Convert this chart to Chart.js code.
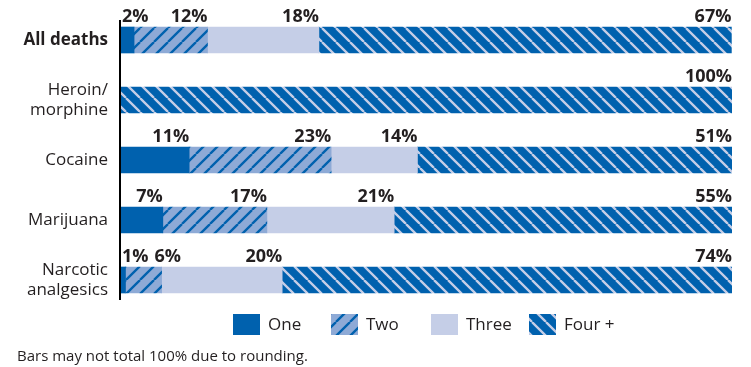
<!DOCTYPE html>
<html>
<head>
<meta charset="utf-8">
<script src="https://cdn.jsdelivr.net/npm/chart.js@4"></script>
<style>
  html, body { margin: 0; padding: 0; background: #fff; }
  #wrap { width: 751px; height: 367px; }
</style>
</head>
<body>
<div id="wrap"><canvas id="chart" width="751" height="367"></canvas></div>
<script>
const categories = ['All deaths', ['Heroin/', 'morphine'], 'Cocaine', 'Marijuana', ['Narcotic', 'analgesics']];
const seriesNames = ['One', 'Two', 'Three', 'Four +'];
// share of deaths by number of drugs involved (%)
const one   = [2.3, 0, 11.3, 7.0, 0.9];
const two   = [12.0, 0, 23.2, 17.0, 5.9];
const three = [18.2, 0, 14.1, 20.8, 19.7];
const four  = [67.4, 100, 51.4, 55.2, 73.5];
const footnote = 'Bars may not total 100% due to rounding.';

const FONT = "'Open Sans', 'Noto Sans', sans-serif";
const DARK = '#0061ae';
const MID = '#8eaad6';
const LIGHT = '#c5cee7';
const TEXT = '#231f20';

const canvas = document.getElementById('chart');
const ctx = canvas.getContext('2d');

function stripes(bg, fg, dir) {
    const s = 14;
    const c = document.createElement('canvas');
    c.width = s;
    c.height = s;
    const x = c.getContext('2d');
    x.fillStyle = bg;
    x.fillRect(0, 0, s, s);
    x.strokeStyle = fg;
    x.lineWidth = 2.3;
    x.beginPath();
    for (const k of [-s, 0, s]) {
        if (dir === '/') {
            x.moveTo(k, s);
            x.lineTo(k + s, 0);
        } else {
            x.moveTo(k, 0);
            x.lineTo(k + s, s);
        }
    }
    x.stroke();
    return ctx.createPattern(c, 'repeat');
}

const fills = [DARK, stripes(MID, DARK, '/'), LIGHT, stripes(DARK, LIGHT, '\\')];

const extras = {
    id: 'extras',
    afterDatasetsDraw(chart) {
        const c = chart.ctx;
        const area = chart.chartArea;
        const axisX = chart.scales.x.getPixelForValue(0);

        // axis line
        c.save();
        c.strokeStyle = '#000';
        c.lineWidth = 2;
        c.beginPath();
        c.moveTo(axisX, area.top + 10);
        c.lineTo(axisX, area.bottom - 10);
        c.stroke();

        // value labels above the bars
        c.font = 'bold 18px ' + FONT;
        c.fillStyle = TEXT;
        c.textAlign = 'right';
        c.textBaseline = 'alphabetic';
        categories.forEach((cat, i) => {
            let prevRight = null;
            chart.data.datasets.forEach((ds, d) => {
                const v = ds.data[i];
                if (!v) return;
                const el = chart.getDatasetMeta(d).data[i];
                const txt = Math.round(v) + '%';
                const w = c.measureText(txt).width;
                let right = Math.max(el.x, axisX + 2 + w);
                if (prevRight !== null) right = Math.max(right, prevRight + 6 + w);
                c.fillText(txt, right, el.y - el.height / 2 - 5);
                prevRight = right;
            });
        });

        // legend
        const legendX = [233, 331, 431, 529];
        c.font = '17px ' + FONT;
        c.textAlign = 'left';
        c.textBaseline = 'middle';
        chart.data.datasets.forEach((ds, d) => {
            c.fillStyle = ds.backgroundColor;
            c.fillRect(legendX[d], 314, 27, 21);
            c.fillStyle = TEXT;
            c.fillText(ds.label, legendX[d] + 35, 325);
        });

        // footnote
        c.font = '15px ' + FONT;
        c.fillText(footnote, 17, 357);
        c.restore();
    }
};

new Chart(ctx, {
    type: 'bar',
    data: {
        labels: categories,
        datasets: [one, two, three, four].map((vals, d) => ({
            label: seriesNames[d],
            data: vals,
            backgroundColor: fills[d],
            borderWidth: 0,
            barThickness: 26
        }))
    },
    options: {
        indexAxis: 'y',
        responsive: false,
        animation: false,
        layout: { padding: { top: 10, bottom: 57, left: 0, right: 19 } },
        plugins: {
            legend: { display: false },
            tooltip: { enabled: false }
        },
        scales: {
            x: { stacked: true, min: 0, max: 100, display: false },
            y: {
                stacked: true,
                grid: { display: false, drawTicks: false },
                border: { display: false },
                afterFit(scale) {
                    scale.width = 120;
                    scale.paddingTop = 0;
                    scale.paddingBottom = 0;
                },
                ticks: {
                    padding: 12,
                    color: TEXT,
                    font: c => ({
                        family: FONT,
                        size: 17,
                        weight: c.index === 0 ? 'bold' : 'normal',
                        lineHeight: 1.2
                    })
                }
            }
        }
    },
    plugins: [extras]
});
</script>
</body>
</html>
